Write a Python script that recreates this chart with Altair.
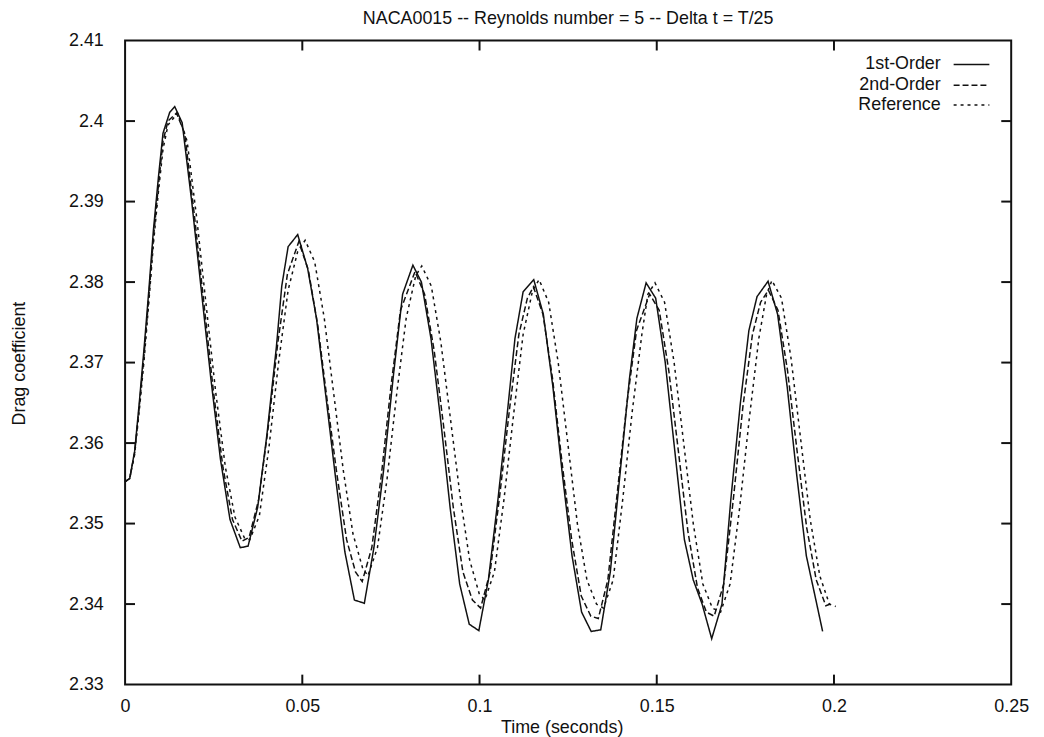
import altair as alt
import pandas as pd

series_names = ["1st-Order", "2nd-Order", "Reference"]

t1 = [0.0000, 0.0013, 0.0027, 0.0040, 0.0054, 0.0067, 0.0080, 0.0094, 0.0107, 0.0126,
      0.0140, 0.0161, 0.0188, 0.0215, 0.0242, 0.0269, 0.0296, 0.0325, 0.0347, 0.0374,
      0.0400, 0.0427, 0.0442, 0.0460, 0.0487, 0.0515, 0.0540, 0.0566, 0.0593, 0.0620,
      0.0647, 0.0675, 0.0702, 0.0729, 0.0756, 0.0783, 0.0812, 0.0836, 0.0863, 0.0890,
      0.0917, 0.0944, 0.0971, 0.0998, 0.1025, 0.1052, 0.1079, 0.1100, 0.1123, 0.1153,
      0.1180, 0.1207, 0.1234, 0.1261, 0.1288, 0.1315, 0.1342, 0.1369, 0.1396, 0.1423,
      0.1444, 0.1470, 0.1497, 0.1524, 0.1551, 0.1578, 0.1603, 0.1628, 0.1655, 0.1684,
      0.1709, 0.1736, 0.1760, 0.1783, 0.1814, 0.1841, 0.1868, 0.1895, 0.1922, 0.1949,
      0.1968]
y1 = [2.3552, 2.3556, 2.3590, 2.3650, 2.3720, 2.3790, 2.3865, 2.3930, 2.3985, 2.4011,
      2.4018, 2.3998, 2.3900, 2.3790, 2.3680, 2.3580, 2.3505, 2.3470, 2.3472, 2.3520,
      2.3610, 2.3720, 2.3795, 2.3844, 2.3859, 2.3817, 2.3755, 2.3660, 2.3560, 2.3465,
      2.3405, 2.3401, 2.3470, 2.3565, 2.3680, 2.3785, 2.3821, 2.3800, 2.3730, 2.3630,
      2.3520, 2.3425, 2.3375, 2.3367, 2.3430, 2.3530, 2.3640, 2.3730, 2.3788, 2.3803,
      2.3760, 2.3670, 2.3560, 2.3460, 2.3390, 2.3366, 2.3368, 2.3440, 2.3560, 2.3680,
      2.3755, 2.3799, 2.3780, 2.3700, 2.3590, 2.3480, 2.3430, 2.3400, 2.3357, 2.3400,
      2.3530, 2.3650, 2.3740, 2.3782, 2.3801, 2.3760, 2.3670, 2.3560, 2.3460, 2.3405,
      2.3366]

t2 = [0.0000, 0.0013, 0.0027, 0.0040, 0.0054, 0.0067, 0.0080, 0.0094, 0.0107, 0.0121,
      0.0145, 0.0168, 0.0195, 0.0222, 0.0249, 0.0276, 0.0303, 0.0330, 0.0350, 0.0377,
      0.0404, 0.0431, 0.0458, 0.0490, 0.0517, 0.0544, 0.0571, 0.0598, 0.0625, 0.0650,
      0.0669, 0.0696, 0.0723, 0.0750, 0.0777, 0.0818, 0.0845, 0.0872, 0.0899, 0.0926,
      0.0953, 0.0980, 0.1003, 0.1030, 0.1057, 0.1084, 0.1111, 0.1135, 0.1152, 0.1179,
      0.1206, 0.1233, 0.1260, 0.1287, 0.1314, 0.1335, 0.1362, 0.1389, 0.1416, 0.1443,
      0.1480, 0.1507, 0.1534, 0.1561, 0.1588, 0.1615, 0.1640, 0.1662, 0.1689, 0.1716,
      0.1743, 0.1770, 0.1793, 0.1815, 0.1842, 0.1869, 0.1896, 0.1923, 0.1950, 0.1977,
      0.1990]
y2 = [2.3552, 2.3556, 2.3588, 2.3645, 2.3712, 2.3782, 2.3855, 2.3920, 2.3975, 2.4000,
      2.4010, 2.3985, 2.3885, 2.3775, 2.3665, 2.3570, 2.3505, 2.3478, 2.3483, 2.3530,
      2.3620, 2.3725, 2.3810, 2.3850, 2.3815, 2.3745, 2.3650, 2.3560, 2.3480, 2.3440,
      2.3428, 2.3470, 2.3560, 2.3670, 2.3765, 2.3813, 2.3785, 2.3715, 2.3620, 2.3520,
      2.3440, 2.3405, 2.3395, 2.3440, 2.3535, 2.3640, 2.3735, 2.3780, 2.3794, 2.3760,
      2.3680, 2.3575, 2.3480, 2.3410, 2.3385, 2.3382, 2.3430, 2.3540, 2.3650, 2.3740,
      2.3785, 2.3765, 2.3690, 2.3590, 2.3490, 2.3420, 2.3390, 2.3385, 2.3425, 2.3530,
      2.3645, 2.3735, 2.3775, 2.3790, 2.3765, 2.3690, 2.3590, 2.3495, 2.3430, 2.3398,
      2.3400]

t3 = [0.0000, 0.0013, 0.0027, 0.0040, 0.0054, 0.0067, 0.0080, 0.0094, 0.0107, 0.0121,
      0.0148, 0.0175, 0.0202, 0.0229, 0.0256, 0.0283, 0.0310, 0.0337, 0.0352, 0.0379,
      0.0406, 0.0433, 0.0460, 0.0487, 0.0508, 0.0535, 0.0562, 0.0589, 0.0616, 0.0643,
      0.0670, 0.0685, 0.0712, 0.0739, 0.0766, 0.0793, 0.0820, 0.0837, 0.0864, 0.0891,
      0.0918, 0.0945, 0.0972, 0.0999, 0.1015, 0.1042, 0.1069, 0.1096, 0.1123, 0.1150,
      0.1168, 0.1195, 0.1222, 0.1249, 0.1276, 0.1303, 0.1330, 0.1350, 0.1377, 0.1404,
      0.1431, 0.1458, 0.1475, 0.1495, 0.1522, 0.1549, 0.1576, 0.1603, 0.1630, 0.1657,
      0.1680, 0.1707, 0.1734, 0.1761, 0.1788, 0.1810, 0.1825, 0.1852, 0.1879, 0.1906,
      0.1933, 0.1960, 0.1987, 0.2005]
y3 = [2.3552, 2.3556, 2.3586, 2.3640, 2.3705, 2.3775, 2.3848, 2.3912, 2.3965, 2.3995,
      2.4010, 2.3975, 2.3880, 2.3770, 2.3662, 2.3570, 2.3508, 2.3482, 2.3480, 2.3510,
      2.3595, 2.3700, 2.3790, 2.3838, 2.3852, 2.3825, 2.3755, 2.3660, 2.3565, 2.3487,
      2.3445, 2.3435, 2.3470, 2.3555, 2.3660, 2.3755, 2.3808, 2.3820, 2.3795, 2.3725,
      2.3630, 2.3535, 2.3455, 2.3413, 2.3405, 2.3440, 2.3530, 2.3635, 2.3735, 2.3790,
      2.3803, 2.3775, 2.3700, 2.3600, 2.3500, 2.3430, 2.3400, 2.3395, 2.3430, 2.3530,
      2.3640, 2.3735, 2.3785, 2.3799, 2.3775, 2.3700, 2.3600, 2.3500, 2.3425, 2.3395,
      2.3390, 2.3425, 2.3520, 2.3630, 2.3730, 2.3785, 2.3802, 2.3780, 2.3705, 2.3605,
      2.3505, 2.3435, 2.3400, 2.3397]

x_ticks = [0, 0.05, 0.1, 0.15, 0.2, 0.25]
y_ticks = [2.33, 2.34, 2.35, 2.36, 2.37, 2.38, 2.39, 2.40, 2.41]

W, H = 893, 649
FONT = "Liberation Sans"
INK = "#111111"

rows = []
for name, ts, ys in zip(series_names, [t1, t2, t3], [y1, y2, y3]):
    for t, v in zip(ts, ys):
        rows.append({"t": t, "cd": v, "series": name})
df = pd.DataFrame(rows)

xscale = alt.Scale(domain=[0, 0.25], nice=False, zero=False)
yscale = alt.Scale(domain=[2.33, 2.41], nice=False, zero=False)
dashes = [[1, 0], [6, 3], [3, 4]]

x_axis = alt.Axis(title="Time (seconds)", values=x_ticks, format="~g",
                  ticks=False, domain=False, grid=False, labelPadding=13,
                  labelFlush=False,
                  labelFontSize=18, labelFont=FONT, labelColor=INK,
                  titleFontSize=18, titleFont=FONT, titleColor=INK,
                  titleFontWeight="normal", titleX=440, titleY=43,
                  titleBaseline="middle", titleAlign="center")
y_axis = alt.Axis(title="Drag coefficient", values=y_ticks, format="~g",
                  ticks=False, domain=False, grid=False, labelPadding=22,
                  labelFlush=False,
                  labelFontSize=18, labelFont=FONT, labelColor=INK,
                  titleFontSize=18, titleFont=FONT, titleColor=INK,
                  titleFontWeight="normal", titleX=-106, titleY=325,
                  titleAngle=270, titleBaseline="middle", titleAlign="center")

lines = alt.Chart(df).mark_line(strokeWidth=1.5, color=INK).encode(
    x=alt.X("t:Q", scale=xscale, axis=x_axis),
    y=alt.Y("cd:Q", scale=yscale, axis=y_axis),
    strokeDash=alt.StrokeDash("series:N", scale=alt.Scale(domain=series_names, range=dashes),
                              legend=None),
    detail="series:N",
)

ydf = pd.DataFrame({"v": y_ticks[1:-1]})
xdf = pd.DataFrame({"v": x_ticks[1:-1]})

ytick_l = alt.Chart(ydf).mark_rule(strokeWidth=2, color=INK).encode(
    y=alt.Y("v:Q", scale=yscale, axis=y_axis), x=alt.value(0), x2=alt.value(10))
ytick_r = alt.Chart(ydf).mark_rule(strokeWidth=2, color=INK).encode(
    y=alt.Y("v:Q", scale=yscale, axis=y_axis), x=alt.value(W - 10), x2=alt.value(W))
xtick_b = alt.Chart(xdf).mark_rule(strokeWidth=2, color=INK).encode(
    x=alt.X("v:Q", scale=xscale, axis=x_axis), y=alt.value(H - 10), y2=alt.value(H))
xtick_t = alt.Chart(xdf).mark_rule(strokeWidth=2, color=INK).encode(
    x=alt.X("v:Q", scale=xscale, axis=x_axis), y=alt.value(0), y2=alt.value(10))

legend_layers = []
leg_y = [24, 45, 65]
for name, dash, ly in zip(series_names, dashes, leg_y):
    ldf = pd.DataFrame({"name": [name]})
    legend_layers.append(
        alt.Chart(ldf).mark_text(align="right", baseline="middle", fontSize=18,
                                 font=FONT, color=INK).encode(
            text="name:N", x=alt.value(822), y=alt.value(ly)))
    legend_layers.append(
        alt.Chart(ldf).mark_rule(strokeWidth=1.5, color=INK, strokeDash=dash).encode(
            x=alt.value(835), x2=alt.value(871), y=alt.value(ly)))

chart = alt.layer(lines, ytick_l, ytick_r, xtick_b, xtick_t, *legend_layers).properties(
    width=W, height=H,
    title=alt.TitleParams("NACA0015 -- Reynolds number = 5 -- Delta t = T/25",
                          fontSize=18, font=FONT, fontWeight="normal", color=INK,
                          anchor="middle", offset=4),
    autosize=alt.AutoSizeParams(type="none"),
    padding={"left": 118, "top": 30, "right": 25, "bottom": 50},
    background="white",
).configure_view(stroke=INK, strokeWidth=2)

chart.save("out.html", embed_options={"renderer": "svg", "actions": False})
